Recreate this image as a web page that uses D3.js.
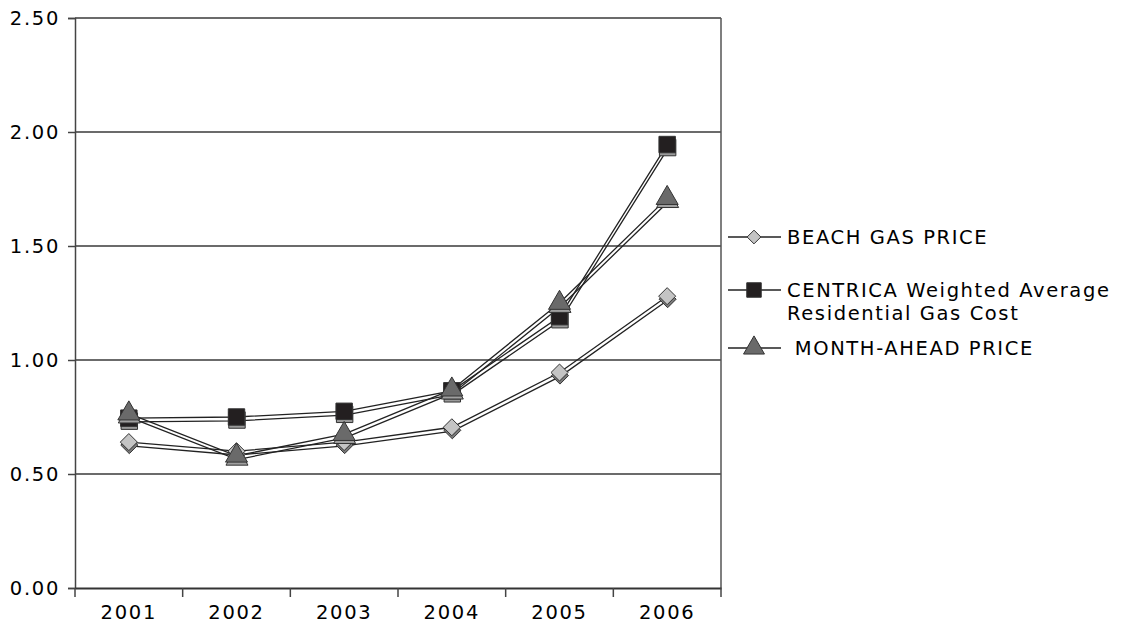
<!DOCTYPE html>
<html><head><meta charset="utf-8">
<script src="https://cdn.jsdelivr.net/npm/d3@7"></script>
<style>body{margin:0;background:#fff}svg{display:block}text{font-family:"DejaVu Sans",Verdana,sans-serif;fill:#000}</style>
</head><body><svg id="c" width="1133" height="628"></svg>
<script>
const years = ["2001","2002","2003","2004","2005","2006"];
const beach = [0.64,0.60,0.64,0.705,0.945,1.28];
const centrica = [0.745,0.75,0.775,0.865,1.19,1.945];
const monthAhead = [0.765,0.58,0.675,0.87,1.25,1.71];
const yTicks = [0,0.5,1,1.5,2,2.5];
const seriesNames = ["BEACH GAS PRICE","CENTRICA Weighted Average|Residential Gas Cost"," MONTH-AHEAD PRICE"];

const svg = d3.select("#c");
const L=75,R=721,T=18,B=588;
const x = d3.scaleBand().domain(years).range([L,R]);
const y = d3.scaleLinear().domain([0,2.5]).range([B,T]);

svg.append("g").selectAll("line").data(yTicks.filter(d=>d>0)).join("line")
  .attr("x1",L).attr("x2",R).attr("y1",d=>y(d)).attr("y2",d=>y(d))
  .attr("stroke","#3a3a3a").attr("stroke-width",1.5);
svg.append("line").attr("x1",R).attr("x2",R).attr("y1",T).attr("y2",B).attr("stroke","#555").attr("stroke-width",1.5);

const ya = svg.append("g").attr("transform",`translate(${L},0)`)
  .call(d3.axisLeft(y).tickValues(yTicks).tickFormat(d3.format(".2f")).tickSize(7).tickPadding(8));
ya.select(".domain").attr("stroke","#444").attr("stroke-width",1.5);
ya.selectAll(".tick line").attr("stroke","#444").attr("stroke-width",1.5);
ya.selectAll("text").style("font-size","19.5px").style("letter-spacing","1.7px").attr("dy","0.35em").attr("fill","#111");

const xa = svg.append("g").attr("transform",`translate(0,${B})`)
  .call(d3.axisBottom(x).tickSize(0).tickPadding(17));
xa.select(".domain").attr("stroke","#333").attr("stroke-width",2);
xa.selectAll("text").style("font-size","19.5px").style("letter-spacing","1.7px").attr("fill","#111");
svg.append("g").selectAll("line").data(d3.range(years.length+1)).join("line")
  .attr("x1",i=>L+i*x.step()).attr("x2",i=>L+i*x.step()).attr("y1",B).attr("y2",B+9)
  .attr("stroke","#444").attr("stroke-width",1.5);

const sym = {
  diamond: d3.symbol().type(d3.symbolDiamond2 || d3.symbolDiamond).size(185),
  square: d3.symbol().type(d3.symbolSquare).size(270),
  triangle: d3.symbol().type(d3.symbolTriangle).size(210)
};
const series = [
  {vals:beach, shape:"diamond", fill:"#c4c4c4", shadow:"#7a7a7a"},
  {vals:centrica, shape:"square", fill:"#231f20", shadow:"#9a9a9a"},
  {vals:monthAhead, shape:"triangle", fill:"#6a6a6a", shadow:"#a0a0a0"}
];
const line = d3.line().x((d,i)=>x(years[i])+x.bandwidth()/2).y(d=>y(d));
const dx=0.8, dy=3.8;
series.forEach(s=>{
  svg.append("path").datum(s.vals).attr("d",line).attr("fill","none")
    .attr("stroke","#222").attr("stroke-width",1.3).attr("transform",`translate(${dx},${dy})`);
  svg.append("path").datum(s.vals).attr("d",line).attr("fill","none")
    .attr("stroke","#222").attr("stroke-width",1.3);
});
series.forEach(s=>{
  const g = svg.append("g");
  g.selectAll(".sh").data(s.vals).join("path")
    .attr("d",sym[s.shape]).attr("transform",(d,i)=>`translate(${x(years[i])+x.bandwidth()/2+dx*0.6},${y(d)+dy*0.8})`)
    .attr("fill",s.shadow).attr("stroke","#333").attr("stroke-width",1);
  g.selectAll(".mk").data(s.vals).join("path")
    .attr("d",sym[s.shape]).attr("transform",(d,i)=>`translate(${x(years[i])+x.bandwidth()/2},${y(d)})`)
    .attr("fill",s.fill).attr("stroke","#333").attr("stroke-width",1);
});

const legY = [237,290,348];
const lg = svg.append("g");
series.forEach((s,i)=>{
  lg.append("line").attr("x1",728).attr("x2",781).attr("y1",legY[i]).attr("y2",legY[i]).attr("stroke","#222").attr("stroke-width",1.5);
  lg.append("path").attr("d",d3.symbol().type(s.shape==="diamond"?(d3.symbolDiamond2||d3.symbolDiamond):s.shape==="square"?d3.symbolSquare:d3.symbolTriangle).size(s.shape==="diamond"?120:s.shape==="square"?210:190))
    .attr("transform",`translate(754,${legY[i]})`).attr("fill",s.fill).attr("stroke","#333");
  const parts = seriesNames[i].split("|");
  const t = lg.append("text").attr("x",787).attr("y",legY[i])
    .style("font-size","19.5px").style("letter-spacing","1.6px").attr("xml:space","preserve");
  parts.forEach((p,j)=>t.append("tspan").attr("x",787).attr("dy",j===0?"0.35em":"23px").text(p));
});
</script></body></html>
